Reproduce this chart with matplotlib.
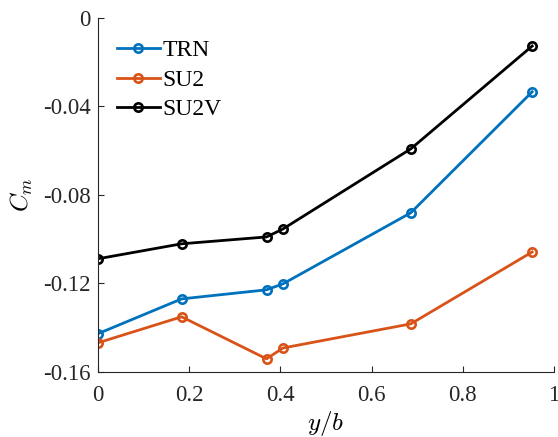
import matplotlib
matplotlib.use("Agg")
import matplotlib.pyplot as plt

# Spanwise stations and moment coefficients
y_b = [0.0, 0.184, 0.370, 0.406, 0.686, 0.952]
cm_trn = [-0.1428, -0.1270, -0.1229, -0.1202, -0.0881, -0.0334]
cm_su2 = [-0.1469, -0.1351, -0.1541, -0.1492, -0.1383, -0.1058]
cm_su2v = [-0.1089, -0.1021, -0.0990, -0.0954, -0.0592, -0.0127]

yticks = [0, -0.04, -0.08, -0.12, -0.16]
ytick_labels = ["0", "-0.04", "-0.08", "-0.12", "-0.16"]
xticks = [0, 0.2, 0.4, 0.6, 0.8, 1]
xtick_labels = ["0", "0.2", "0.4", "0.6", "0.8", "1"]

plt.rcParams["font.family"] = ["Liberation Serif", "DejaVu Serif"]
plt.rcParams["mathtext.fontset"] = "cm"
plt.rcParams["font.size"] = 16

fig = plt.figure(figsize=(5.58, 4.37), dpi=100)
ax = fig.add_axes([0.175, 0.149, 0.818, 0.81])

style = dict(marker="o", markersize=6, markerfacecolor="none",
             markeredgewidth=1.9, linewidth=2.0)
ax.plot(y_b, cm_trn, color="#0072BD", label="TRN", **style)
ax.plot(y_b, cm_su2, color="#D95319", label="SU2", **style)
ax.plot(y_b, cm_su2v, color="black", label="SU2V", **style)

ax.set_xlim(0, 1)
ax.set_ylim(-0.16, 0)
ax.set_xticks(xticks, xtick_labels)
ax.set_yticks(yticks, ytick_labels)
ax.tick_params(direction="in", length=4, width=0.8, colors="#262626",
               labelcolor="#262626", labelsize=16.5)
ax.tick_params(axis="x", pad=9.5)
ax.tick_params(axis="y", pad=5)
ax.spines["top"].set_visible(False)
ax.spines["right"].set_visible(False)
for s in ("left", "bottom"):
    ax.spines[s].set_color("#262626")
    ax.spines[s].set_linewidth(0.8)

ax.set_xlabel("$y/b$", fontsize=18, labelpad=2)
ax.set_ylabel("$C_m$", fontsize=18, labelpad=6)

ax.legend(loc="upper left", frameon=False, fontsize=17, handlelength=1.82,
          handletextpad=0.1, borderaxespad=0.42, labelspacing=0.34,
          bbox_to_anchor=(0.0, 0.993))

fig.savefig("out.png", dpi=100)
